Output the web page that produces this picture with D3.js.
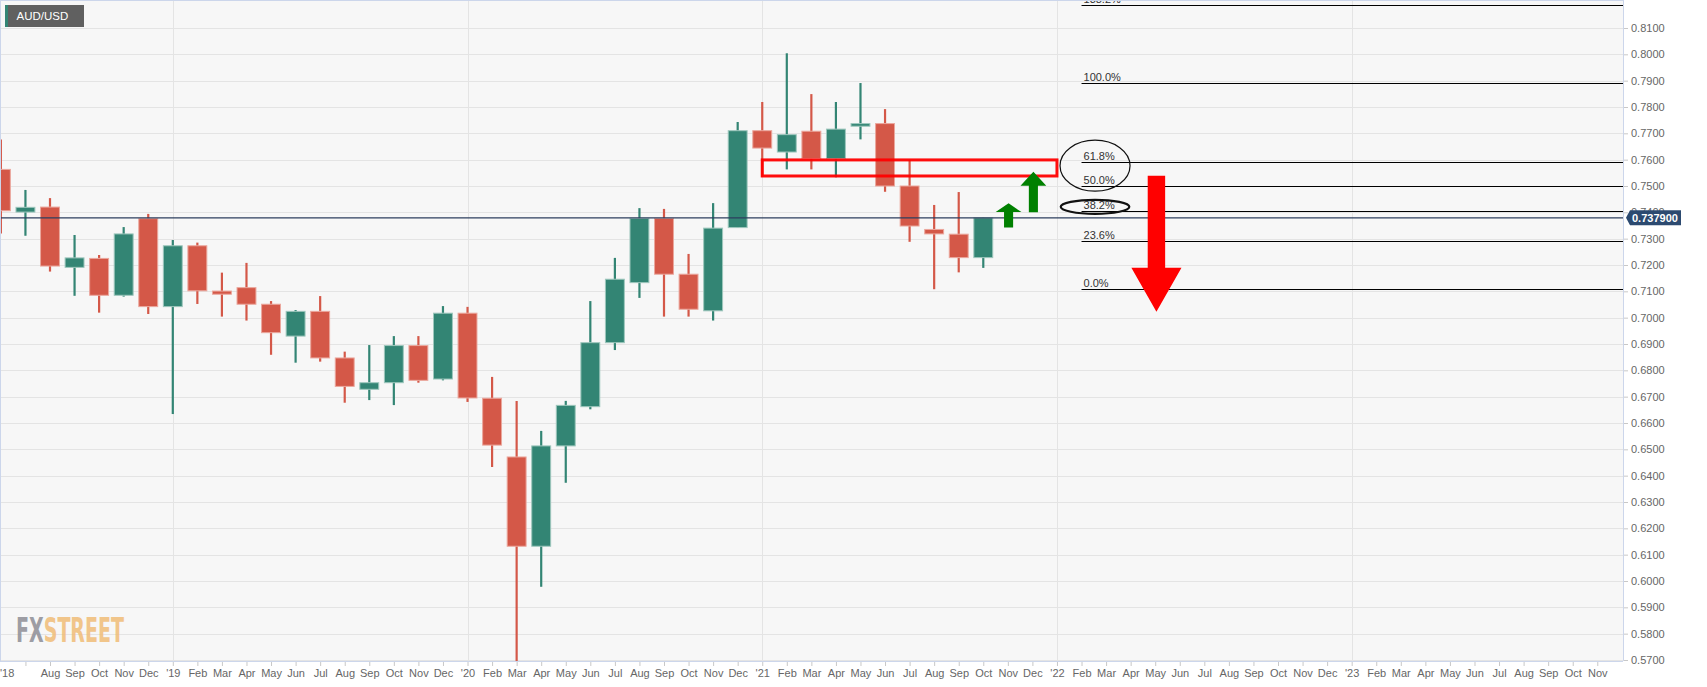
<!DOCTYPE html>
<html>
<head>
<meta charset="utf-8">
<script src="https://cdn.jsdelivr.net/npm/d3@7"></script>
<style>
  html, body { margin: 0; padding: 0; background: #ffffff; }
  svg { display: block; font-family: "Liberation Sans", Arial, sans-serif; }
</style>
</head>
<body>
<svg id="chart" width="1707" height="687"></svg>
<script>
// ---------- DATA ----------
// month index: 0 = Jan 2018
const candleIndex = d3.range(5, 46); // Jun 2018 .. Oct 2021
const openVals  = [0.7563,0.7401,0.7420,0.7191,0.7225,0.7085,0.7376,0.7042,0.7273,0.7101,0.7114,0.7051,0.6930,0.7024,0.6847,0.6728,0.6753,0.6894,0.6767,0.7017,0.6694,0.6471,0.6132,0.6513,0.6662,0.6905,0.7133,0.7377,0.7165,0.7026,0.7342,0.7710,0.7629,0.7708,0.7604,0.7727,0.7737,0.7500,0.7335,0.7317,0.7228];
const highVals  = [0.7677,0.7485,0.7454,0.7314,0.7238,0.7344,0.7394,0.7295,0.7285,0.7171,0.7208,0.7063,0.7029,0.7082,0.6871,0.6896,0.6930,0.6930,0.7044,0.7041,0.6775,0.6684,0.6570,0.6684,0.7063,0.7227,0.7416,0.7413,0.7242,0.7435,0.7743,0.7819,0.8004,0.7849,0.7819,0.7891,0.7792,0.7599,0.7428,0.7477,0.7380];
const lowVals   = [0.7320,0.7311,0.7175,0.7083,0.7019,0.7080,0.7014,0.6634,0.7052,0.7004,0.6989,0.6859,0.6829,0.6833,0.6677,0.6687,0.6668,0.6753,0.6762,0.6680,0.6433,0.5506,0.5978,0.6373,0.6652,0.6877,0.7075,0.7004,0.7004,0.6989,0.7342,0.7535,0.7563,0.7563,0.7533,0.7677,0.7478,0.7288,0.7108,0.7172,0.7189];
const closeVals = [0.7406,0.7419,0.7196,0.7227,0.7085,0.7318,0.7042,0.7273,0.7102,0.7089,0.7051,0.6943,0.7024,0.6847,0.6739,0.6753,0.6894,0.6762,0.7017,0.6695,0.6516,0.6132,0.6513,0.6667,0.6905,0.7146,0.7377,0.7165,0.7032,0.7340,0.7710,0.7644,0.7695,0.7604,0.7716,0.7737,0.7500,0.7348,0.7318,0.7228,0.7379];

const monthNames = ["Jan","Feb","Mar","Apr","May","Jun","Jul","Aug","Sep","Oct","Nov","Dec"];
const xTickIndex = d3.range(6, 71);        // Jul 2018 .. Nov 2023
const hiddenTickLabels = [6];               // Jul 2018 label hidden behind sticky year
const stickyYearLabel = "'18";
const yTickValues = d3.range(57, 82).map(d => d / 100); // 0.57 .. 0.81

const symbol = "AUD/USD";
const lastPrice = 0.7379;
const lastPriceLabel = "0.737900";

// Fibonacci retracement
const fibLevels = [0, 23.6, 38.2, 50, 61.8, 100, 138.2];
const fibLabels = ["0.0%", "23.6%", "38.2%", "50.0%", "61.8%", "100.0%", "138.2%"];
const fibLow = 0.7108, fibHigh = 0.7890, fibStartIndex = 49;

// Annotations (month index / price)
const zoneBox = { i0: 36, i1: 48, p0: 0.7599, p1: 0.7538 };
const greenArrows = [
  { i: 46.03, tip: 0.7434, headBase: 0.7401, tail: 0.7342 },
  { i: 47.04, tip: 0.7554, headBase: 0.7501, tail: 0.7400 }
];
const redArrow = { i: 52.05, tail: 0.7539, headBase: 0.7190, tip: 0.7022 };
const ellipses = [
  { i: 49.55, p: 0.7577, rx: 35, ry: 25.5, w: 1.2 },
  { i: 49.55, p: 0.7421, rx: 34.3, ry: 7, w: 2.2 }
];

// ---------- LAYOUT ----------
const W = 1707, H = 687;
const plotL = 0, plotR = 1623, plotT = 0, plotB = 661;

const x = d3.scaleLinear().domain([4.9642, 71.047]).range([plotL, plotR]);
const y = d3.scaleLinear().domain([0.56962, 0.82063]).range([plotB, plotT]);
const monthW = x(1) - x(0);

const GREEN = "#338574", RED = "#d45848";
const GREEN_EDGE = "#9ec7bd", RED_EDGE = "#eba79d";

const svg = d3.select("#chart");

// backgrounds
svg.append("rect").attr("width", W).attr("height", H).attr("fill", "#ffffff");
svg.append("rect").attr("x", plotL).attr("y", plotT).attr("width", plotR - plotL).attr("height", plotB - plotT).attr("fill", "#f7f7f7");

const defs = svg.append("defs");
defs.append("clipPath").attr("id", "plotClip").append("rect")
  .attr("x", plotL).attr("y", plotT).attr("width", plotR - plotL).attr("height", plotB - plotT);

// grid
const grid = svg.append("g");
grid.selectAll("line.h").data(yTickValues).join("line")
  .attr("x1", plotL).attr("x2", plotR)
  .attr("y1", d => Math.round(y(d)) + 0.5).attr("y2", d => Math.round(y(d)) + 0.5)
  .attr("stroke", "#e4e4e4").attr("stroke-width", 1);
grid.selectAll("line.v").data(xTickIndex.filter(i => i % 12 === 0)).join("line")
  .attr("x1", d => Math.round(x(d)) + 0.5).attr("x2", d => Math.round(x(d)) + 0.5)
  .attr("y1", plotT).attr("y2", plotB)
  .attr("stroke", "#e4e4e4").attr("stroke-width", 1);

// logo
const logo = svg.append("text").attr("x", 16).attr("y", 642)
  .style("font-family", "'DejaVu Sans Condensed', 'Liberation Sans Narrow', sans-serif")
  .style("font-weight", "bold").style("font-size", "34px")
  .attr("textLength", 108).attr("lengthAdjust", "spacingAndGlyphs").attr("opacity", 0.85);
logo.append("tspan").attr("fill", "#8e8e96").text("FX");
logo.append("tspan").attr("fill", "#f0bd78").text("STREET");

// candles
const candles = candleIndex.map((idx, k) => ({
  idx, o: openVals[k], h: highVals[k], l: lowVals[k], c: closeVals[k]
}));
const bodyW = monthW * 0.77;
const cg = svg.append("g").attr("clip-path", "url(#plotClip)");
cg.selectAll("line.wick").data(candles).join("line")
  .attr("x1", d => x(d.idx)).attr("x2", d => x(d.idx))
  .attr("y1", d => y(d.h)).attr("y2", d => y(d.l))
  .attr("stroke", d => d.c >= d.o ? GREEN : RED).attr("stroke-width", 2.2);
cg.selectAll("rect.body").data(candles).join("rect")
  .attr("x", d => x(d.idx) - bodyW / 2)
  .attr("y", d => y(Math.max(d.o, d.c)))
  .attr("width", bodyW)
  .attr("height", d => Math.max(2, Math.abs(y(d.o) - y(d.c))))
  .attr("fill", d => d.c >= d.o ? GREEN : RED)
  .attr("stroke", d => d.c >= d.o ? GREEN_EDGE : RED_EDGE).attr("stroke-width", 1);

// last price line
svg.append("line").attr("x1", plotL).attr("x2", plotR)
  .attr("y1", y(lastPrice)).attr("y2", y(lastPrice))
  .attr("stroke", "#2c3e5e").attr("stroke-width", 1.2);

// fib lines
const fg = svg.append("g");
fibLevels.forEach((lv, k) => {
  const p = fibLow + (fibHigh - fibLow) * lv / 100;
  const yy = Math.round(y(p)) + 0.5;
  fg.append("line").attr("x1", x(fibStartIndex)).attr("x2", plotR)
    .attr("y1", yy).attr("y2", yy).attr("stroke", "#000").attr("stroke-width", 1.2);
  fg.append("text").attr("x", x(fibStartIndex) + 2).attr("y", yy - 2.5)
    .attr("fill", "#333").style("font-size", "11px").text(fibLabels[k]);
});

// zone box
svg.append("rect")
  .attr("x", x(zoneBox.i0)).attr("y", y(zoneBox.p0))
  .attr("width", x(zoneBox.i1) - x(zoneBox.i0)).attr("height", y(zoneBox.p1) - y(zoneBox.p0))
  .attr("fill", "none").attr("stroke", "#ff0000").attr("stroke-width", 3).attr("opacity", 0.95);

// ellipses
svg.selectAll("ellipse.e").data(ellipses).join("ellipse")
  .attr("cx", d => x(d.i)).attr("cy", d => y(d.p))
  .attr("rx", d => d.rx).attr("ry", d => d.ry)
  .attr("fill", "none").attr("stroke", "#111").attr("stroke-width", d => d.w);

// arrows
function upArrow(a, shaftW, headW) {
  const cx = x(a.i);
  return `M${cx - shaftW/2},${y(a.tail)} L${cx - shaftW/2},${y(a.headBase)} L${cx - headW/2},${y(a.headBase)} L${cx},${y(a.tip)} L${cx + headW/2},${y(a.headBase)} L${cx + shaftW/2},${y(a.headBase)} L${cx + shaftW/2},${y(a.tail)} Z`;
}
svg.selectAll("path.ga").data(greenArrows).join("path")
  .attr("d", d => upArrow(d, monthW * 0.37, monthW * 1.05))
  .attr("fill", "#008000");
svg.append("path").attr("d", upArrow(redArrow, monthW * 0.71, monthW * 2.04)).attr("fill", "#ff0000");

// axes
const axisColor = "#ccd6eb";
const yAxis = d3.axisRight(y).tickValues(yTickValues).tickFormat(d3.format(".4f")).tickSize(5).tickPadding(3);
const gy = svg.append("g").attr("transform", `translate(${plotR},0)`).call(yAxis);
gy.select(".domain").remove();
gy.selectAll(".tick line").attr("stroke", "#c8c8c8");
gy.selectAll(".tick text").attr("fill", "#666").style("font-size", "11px").style("font-family", "'Liberation Sans', Arial, sans-serif");
svg.append("line").attr("x1", plotR + 0.5).attr("x2", plotR + 0.5).attr("y1", plotT).attr("y2", plotB)
  .attr("stroke", axisColor);

const xAxis = d3.axisBottom(x).tickValues(xTickIndex)
  .tickFormat(i => hiddenTickLabels.includes(i) ? "" : (i % 12 === 0 ? "'" + String(18 + i / 12).padStart(2, "0") : monthNames[i % 12]))
  .tickSize(5).tickPadding(3);
const gx = svg.append("g").attr("transform", `translate(0,${plotB})`).call(xAxis);
gx.select(".domain").remove();
gx.selectAll(".tick line").attr("stroke", "#c8c8c8");
gx.selectAll(".tick text").attr("fill", "#666").style("font-size", "11px").style("font-family", "'Liberation Sans', Arial, sans-serif");
svg.append("text").attr("x", 0).attr("y", plotB + 8).attr("dy", "0.71em")
  .attr("fill", "#666").style("font-size", "11px").text(stickyYearLabel);
svg.append("line").attr("x1", plotL).attr("x2", plotR).attr("y1", plotB + 0.5).attr("y2", plotB + 0.5)
  .attr("stroke", axisColor);
// plot border
svg.append("line").attr("x1", 0.5).attr("x2", 0.5).attr("y1", 0).attr("y2", plotB).attr("stroke", axisColor);
svg.append("line").attr("x1", 0).attr("x2", plotR).attr("y1", 0.5).attr("y2", 0.5).attr("stroke", axisColor);

// last price tag
const ly = y(lastPrice);
const tag = svg.append("g");
tag.append("path")
  .attr("d", `M${plotR + 3},${ly} L${plotR + 7},${ly - 7.5} L${plotR + 58},${ly - 7.5} L${plotR + 58},${ly + 7.5} L${plotR + 7},${ly + 7.5} Z`)
  .attr("fill", "#2c4a70");
tag.append("text").attr("x", plotR + 9).attr("y", ly).attr("dy", "0.35em")
  .attr("fill", "#fff").style("font-size", "11px").style("font-weight", "bold").text(lastPriceLabel);

// symbol badge
svg.append("rect").attr("x", 5).attr("y", 5).attr("width", 79).attr("height", 22).attr("fill", "#606060");
svg.append("rect").attr("x", 5).attr("y", 5).attr("width", 3).attr("height", 22).attr("fill", GREEN);
svg.append("text").attr("x", 16.5).attr("y", 16).attr("dy", "0.35em")
  .attr("fill", "#fff").style("font-size", "11.5px").text(symbol);
</script>
</body>
</html>
